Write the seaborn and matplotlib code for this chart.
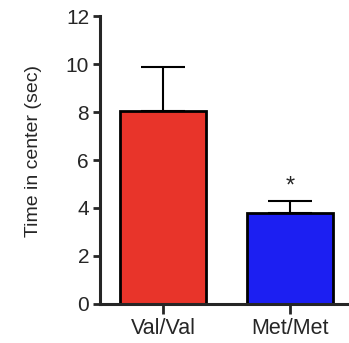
import pandas as pd
from matplotlib import pyplot as plt
import seaborn as sns

genotypes = ['Val/Val', 'Met/Met']
mean_time = [8.05, 3.8]
sem_time = [1.83, 0.47]
bar_colors = ['#E8342A', '#1C1FF2']

sns.set_style('ticks')
plt.rcParams['font.family'] = ['Liberation Sans', 'DejaVu Sans']

df = pd.DataFrame({'Genotype': genotypes, 'Time': mean_time})

fig = plt.figure(figsize=(3.49, 3.43), dpi=100)
ax = fig.add_axes([0.287, 0.114, 0.713, 0.839])

sns.barplot(data=df, x='Genotype', y='Time', hue='Genotype', palette=bar_colors,
            order=genotypes, hue_order=genotypes, width=0.68, errorbar=None,
            saturation=1, edgecolor='black', linewidth=2.0, legend=False, ax=ax, zorder=2)

# upper error bars only, like the original figure
ax.errorbar(range(len(genotypes)), mean_time, yerr=[[0, 0], sem_time], fmt='none',
            ecolor='black', elinewidth=1.5, capsize=15.5, capthick=1.5, zorder=1)

ax.text(1, sem_time[1] + mean_time[1] + 0.15, '*', ha='center', va='bottom', fontsize=17)

ax.set_xlim(-0.496, 1.465)
ax.set_ylim(0, 12)
ax.set_yticks(range(0, 13, 2))
ax.set_xlabel('')
ax.set_ylabel('Time in center (sec)', fontsize=14)
ax.yaxis.set_label_coords(-0.235, 0.53)
ax.tick_params(axis='y', length=5, width=2.0, labelsize=15, pad=3)
ax.tick_params(axis='x', length=7, width=2.0, labelsize=15.5, pad=3)
sns.despine(ax=ax)
for side in ['left', 'bottom']:
    ax.spines[side].set_linewidth(2.2)

fig.savefig('out.png', dpi=100)
